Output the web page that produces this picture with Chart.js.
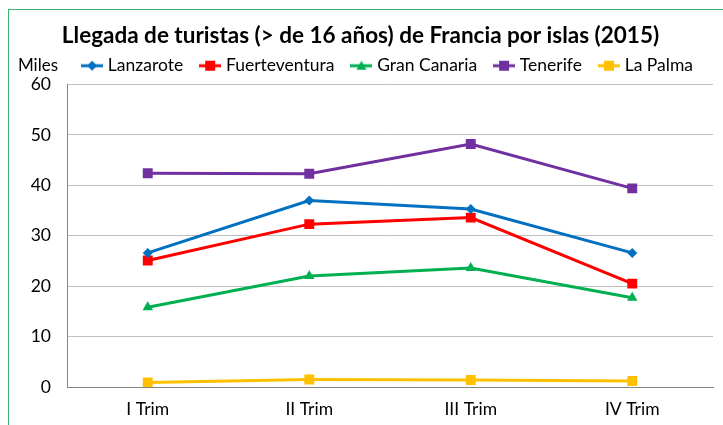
<!DOCTYPE html>
<html>
<head>
  <script src="https://cdn.jsdelivr.net/npm/chart.js@4"></script>
  <style>
    body { margin: 0; background: #fff; }
    #wrap { width: 723px; height: 425px; }
  </style>
</head>
<body>
  <div id="wrap"><canvas id="myChart" width="723" height="425"></canvas></div>
  <script>
    const categories = ['I Trim', 'II Trim', 'III Trim', 'IV Trim'];
    const lanzarote = [26.6, 37.0, 35.3, 26.6];
    const fuerteventura = [25.1, 32.3, 33.6, 20.5];
    const granCanaria = [15.8, 22.0, 23.6, 17.7];
    const tenerife = [42.4, 42.3, 48.2, 39.4];
    const laPalma = [0.9, 1.5, 1.4, 1.2];

    const FONT = 'Lato, "DejaVu Sans", sans-serif';

    // line + marker image for the legend, the way Excel draws it
    function legendIcon(color, style) {
      const c = document.createElement('canvas');
      c.width = 22; c.height = 12;
      const g = c.getContext('2d');
      g.strokeStyle = color; g.lineWidth = 3;
      g.beginPath(); g.moveTo(0, 6); g.lineTo(22, 6); g.stroke();
      g.fillStyle = color;
      g.beginPath();
      if (style === 'rectRot') {
        g.moveTo(11, 1); g.lineTo(16, 6); g.lineTo(11, 11); g.lineTo(6, 6);
      } else if (style === 'triangle') {
        g.moveTo(11, 1); g.lineTo(16, 10); g.lineTo(6, 10);
      } else {
        g.rect(6, 1, 10, 10);
      }
      g.closePath(); g.fill();
      return c;
    }

    function series(label, data, color, style, radius) {
      return {
        label, data,
        borderColor: color, backgroundColor: color,
        borderWidth: 3,
        pointStyle: style, pointRadius: radius, pointHoverRadius: radius,
        pointBackgroundColor: color, pointBorderColor: color, pointBorderWidth: 0,
        tension: 0,
      };
    }

    const frame = {
      id: 'frame',
      afterDraw(chart) {
        const ctx = chart.ctx;
        ctx.save();
        ctx.strokeStyle = '#3cb371';
        ctx.lineWidth = 1;
        ctx.strokeRect(8.5, 9.5, 800, 500);
        ctx.fillStyle = '#000';
        ctx.font = '17px ' + FONT;
        ctx.textAlign = 'center';
        ctx.textBaseline = 'middle';
        ctx.fillText('Miles', 38, 66);
        ctx.restore();
      }
    };

    new Chart(document.getElementById('myChart'), {
      type: 'line',
      data: {
        labels: categories,
        datasets: [
          series('Lanzarote', lanzarote, '#0070C0', 'rectRot', 5),
          series('Fuerteventura', fuerteventura, '#FF0000', 'rect', 7),
          series('Gran Canaria', granCanaria, '#00B050', 'triangle', 6),
          series('Tenerife', tenerife, '#7030A0', 'rect', 7),
          series('La Palma', laPalma, '#FFC000', 'rect', 7),
        ],
      },
      options: {
        responsive: false,
        animation: false,
        layout: { padding: { left: 8, right: 10, top: 10, bottom: 0 } },
        plugins: {
          title: {
            display: true,
            text: 'Llegada de turistas (> de 16 años) de Francia por islas (2015)',
            color: '#000',
            font: { family: FONT, size: 22.5, weight: 'bold' },
            padding: { top: 12, bottom: -12 },
          },
          legend: {
            position: 'top',
            align: 'end',
            labels: {
              usePointStyle: true,
              pointStyleWidth: 14,
              padding: 20,
              color: '#000',
              font: { family: FONT, size: 17.5 },
              generateLabels(chart) {
                return chart.data.datasets.map((ds, i) => ({
                  text: ds.label,
                  datasetIndex: i,
                  pointStyle: legendIcon(ds.borderColor, ds.pointStyle),
                  fillStyle: ds.borderColor,
                  strokeStyle: ds.borderColor,
                  lineWidth: 0,
                  fontColor: '#000',
                  hidden: false,
                }));
              },
            },
          },
          tooltip: { enabled: false },
        },
        scales: {
          x: {
            offset: true,
            afterFit(s) { s.height = 38; },
            grid: { display: false, drawTicks: false },
            border: { color: '#868686', width: 1 },
            ticks: { color: '#000', font: { family: FONT, size: 17.5 }, padding: 12 },
          },
          y: {
            min: 0, max: 60,
            afterFit(s) { s.width = 59; },
            grid: { color: '#BFBFBF', lineWidth: 1, drawTicks: false },
            border: { color: '#868686', width: 1 },
            ticks: { stepSize: 10, color: '#000', font: { family: FONT, size: 17.5 }, padding: 16 },
          },
        },
      },
      plugins: [frame],
    });
  </script>
</body>
</html>
